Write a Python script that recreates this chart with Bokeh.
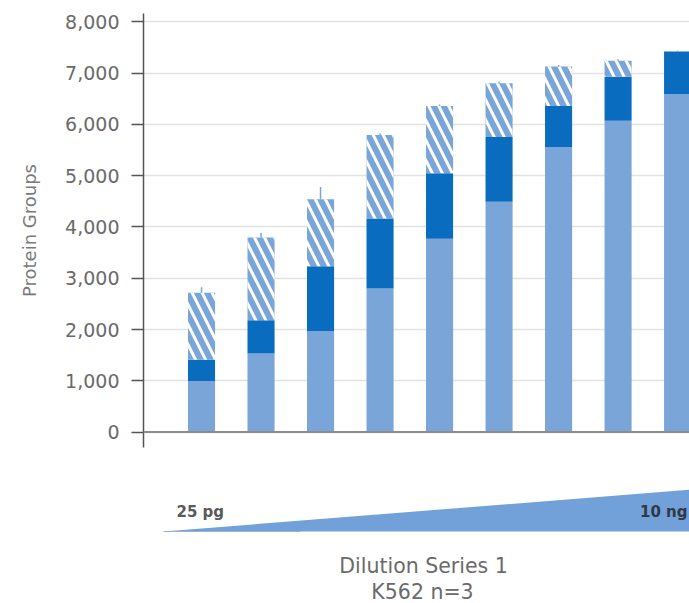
from bokeh.plotting import figure
from bokeh.layouts import column
from bokeh.models import Range1d, FixedTicker, NumeralTickFormatter, Span
from bokeh.core.properties import value
from bokeh.embed import file_html
from bokeh.resources import INLINE

# Dilution steps, 25 pg -> 10 ng
steps = [0, 1, 2, 3, 4, 5, 6, 7, 8]

# Stacked protein-group counts per dilution step
base_ids = [995, 1530, 1970, 2800, 3770, 4490, 5560, 6070, 6590]
mid_ids = [415, 650, 1265, 1365, 1275, 1265, 795, 855, 830]
top_ids = [1305, 1615, 1305, 1625, 1310, 1045, 770, 315, 0]
top_err = [110, 90, 240, 30, 30, 30, 30, 30, 20]

y_ticks = [0, 1000, 2000, 3000, 4000, 5000, 6000, 7000, 8000]

LIGHT = "#7aa5d8"
DARK = "#0a6cbf"
FONT = "DejaVu Sans"

mid_bottom = base_ids
mid_top = [b + m for b, m in zip(base_ids, mid_ids)]
top_top = [t + h for t, h in zip(mid_top, top_ids)]
err_top = [t + e for t, e in zip(top_top, top_err)]

p = figure(
    width=689, height=460,
    x_range=Range1d(-0.975, 8.2), y_range=Range1d(-300, 8160),
    output_backend="svg", toolbar_location=None,
    x_axis_location=None,
    min_border_left=143, min_border_right=0,
    min_border_top=13, min_border_bottom=13,
)
p.outline_line_color = None
p.xgrid.visible = False
p.ygrid.grid_line_color = "#e2e2e2"
p.ygrid.grid_line_width = 1.5

yaxis = p.yaxis[0]
yaxis.ticker = FixedTicker(ticks=y_ticks)
yaxis.formatter = NumeralTickFormatter(format="0,0")
yaxis.axis_label = "Protein Groups"
yaxis.axis_label_text_font = FONT
yaxis.axis_label_text_font_size = "18px"
yaxis.axis_label_text_font_style = "normal"
yaxis.axis_label_text_color = "#7a7a7a"
yaxis.axis_label_standoff = 22
yaxis.major_label_text_font = FONT
yaxis.major_label_text_font_size = "19px"
yaxis.major_label_text_color = "#6a6a6a"
yaxis.major_label_standoff = 12
yaxis.axis_line_color = "#555555"
yaxis.axis_line_width = 1.5
yaxis.major_tick_line_color = "#555555"
yaxis.major_tick_line_width = 1.5
yaxis.major_tick_out = 12
yaxis.major_tick_in = 0
yaxis.minor_tick_line_color = None

bar_w = 0.455

p.vbar(x=steps, bottom=0, top=base_ids, width=bar_w,
       fill_color=LIGHT, line_color=None)
p.vbar(x=steps, bottom=mid_bottom, top=mid_top, width=bar_w,
       fill_color=DARK, line_color=None)
p.vbar(x=steps, bottom=mid_top, top=top_top, width=bar_w,
       fill_color=LIGHT, line_color=None,
       hatch_pattern="left_diagonal_line", hatch_color="white",
       hatch_weight=3, hatch_scale=20)
p.segment(x0=steps, y0=top_top, x1=steps, y1=err_top,
          line_color=LIGHT, line_width=1.5)

p.add_layout(Span(location=0, dimension="width",
                  line_color="#8c8c8c", line_width=2))

# Dilution wedge and series caption; the frame is aligned with the
# chart frame above, so its x coordinates run from 143 to 689 px.
q = figure(
    width=689, height=143,
    x_range=Range1d(143, 689), y_range=Range1d(0, 143),
    output_backend="svg", toolbar_location=None,
    x_axis_location=None, y_axis_location=None,
    min_border_left=143, min_border_right=0,
    min_border_top=0, min_border_bottom=0,
)
q.outline_line_color = None
q.grid.visible = False

q.patch(x=[163, 692, 692], y=[72, 72, 114],
        fill_color="#72a0d8", line_color=None)
q.line(x=[163, 300], y=[72, 72], line_color="#9ab3cf", line_width=1)

q.text(x=[176], y=[92], text=["25 pg"], text_font=value(FONT),
       text_font_size="15px", text_font_style="bold",
       text_color="#5a5a5a", text_align="left", text_baseline="middle")
q.text(x=[687], y=[92], text=["10 ng"], text_font=value(FONT),
       text_font_size="15px", text_font_style="bold",
       text_color="#2f3a48", text_align="right", text_baseline="middle")
q.text(x=[423], y=[38], text=["Dilution Series 1"], text_font=value(FONT),
       text_font_size="20.5px", text_color="#6a6a6a",
       text_align="center", text_baseline="middle")
q.text(x=[422], y=[12], text=["K562 n=3"], text_font=value(FONT),
       text_font_size="20.5px", text_color="#6a6a6a",
       text_align="center", text_baseline="middle")
q.text(x=[647], y=[5], text=["P"], text_font=value(FONT),
       text_font_size="22px", text_font_style="bold",
       text_color="#000000", text_align="left", text_baseline="top")

layout = column(p, q, spacing=0)

with open("out.html", "w") as f:
    f.write(file_html(layout, INLINE))
